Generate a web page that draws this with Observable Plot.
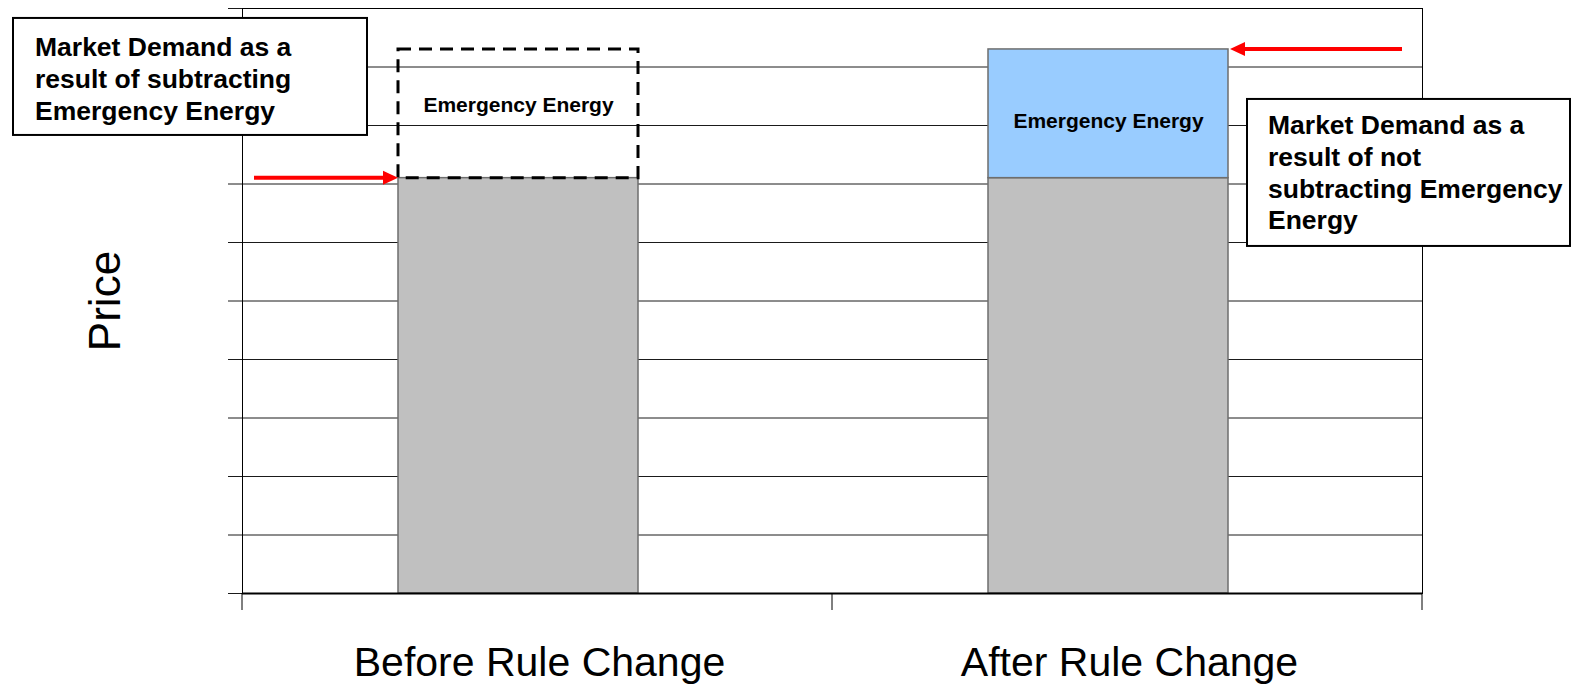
<!DOCTYPE html>
<html><head><meta charset="utf-8">
<script src="https://cdn.jsdelivr.net/npm/d3@7"></script>
<script src="https://cdn.jsdelivr.net/npm/@observablehq/plot@0.6"></script>
<style>html,body{margin:0;padding:0;background:#fff;}</style>
</head><body><div id="chart"></div>
<script>
// ---- data ----
const categories = ["Before Rule Change", "After Rule Change"];
const marketDemand = [7.1, 7.1];
const emergencyEnergy = [2.2, 2.2];
const emergencyStyle = ["dashed", "filled"];
const yTicks = [0, 1, 2, 3, 4, 5, 6, 7, 8, 9, 10];
const barLabel = "Emergency Energy";
const yLabel = "Price";
const noteBefore = ["Market Demand as a", "result of subtracting", "Emergency Energy"];
const noteAfter = ["Market Demand as a", "result of not", "subtracting Emergency", "Energy"];

const rows = categories.map((c, i) => ({
  category: c,
  base: marketDemand[i],
  top: marketDemand[i] + emergencyEnergy[i],
  style: emergencyStyle[i]
}));

const W = 1572, H = 686;
const padInner = 0.594, padOuter = padInner / 2, bandAlign = 0.445;
const FONT = "Liberation Sans, Arial, sans-serif";

function overlay(index, scales, values, dims) {
  const x = scales.x, y = scales.y;
  const ml = dims.marginLeft, mr = dims.marginRight, mb = dims.marginBottom;
  const n = categories.length;
  const step = (dims.width - ml - mr) / (n - padInner + 2 * padOuter);
  const bwRaw = x.bandwidth;
  const bw = typeof bwRaw === "function" ? bwRaw() : (typeof bwRaw === "number" ? bwRaw : step * (1 - padInner));
  const g = d3.create("svg:g").attr("font-family", FONT).attr("text-anchor", "start");
  const bottom = dims.height - mb;

  // category boundary ticks (below the x axis)
  const bounds = d3.range(n + 1).map(i => ml + i * step);
  g.selectAll("line.t").data(bounds).join("line")
    .attr("x1", d => d).attr("x2", d => d).attr("y1", bottom).attr("y2", bottom + 17)
    .attr("stroke", "#000").attr("stroke-width", 1);

  const b0 = x(categories[0]), b1 = x(categories[1]);

  // arrows
  function arrow(xFrom, xTo, yy) {
    const dir = Math.sign(xTo - xFrom);
    const head = 15, hw = 7;
    g.append("line").attr("x1", xFrom).attr("x2", xTo - dir * head).attr("y1", yy).attr("y2", yy)
      .attr("stroke", "#ff0000").attr("stroke-width", 4);
    g.append("path")
      .attr("d", `M${xTo},${yy}L${xTo - dir * head},${yy - hw}L${xTo - dir * head},${yy + hw}Z`)
      .attr("fill", "#ff0000");
  }
  arrow(ml + 12, b0, y(rows[0].base));
  arrow(dims.width - mr - 20, b1 + bw + 2, y(rows[1].top));

  // note boxes
  function note(lines, x0, y0, w, h, tx, ty) {
    g.append("rect").attr("x", x0).attr("y", y0).attr("width", w).attr("height", h)
      .attr("fill", "#fff").attr("stroke", "#000").attr("stroke-width", 2);
    const t = g.append("text").attr("font-size", 26.5).attr("font-weight", "bold").attr("fill", "#000")
      .attr("text-anchor", "start");
    lines.forEach((l, i) => t.append("tspan").attr("x", x0 + tx).attr("y", y0 + ty + i * 31.8).text(l));
  }
  const topB = y(rows[0].top);
  note(noteBefore, b0 - 385, topB - 31, 354, 117, 22, 38);
  const topA = y(rows[1].top);
  note(noteAfter, b1 + bw + 19, topA + 50, 323, 147, 21, 35);
  return g.node();
}

const chart = Plot.plot({
  width: W, height: H,
  marginLeft: 242, marginRight: 150, marginTop: 8, marginBottom: 93,
  style: {fontFamily: FONT, background: "#fff", color: "#000", overflow: "visible"},
  x: {type: "band", domain: categories, paddingInner: padInner, paddingOuter: padOuter, align: bandAlign, label: null},
  y: {domain: [0, 10], label: null},
  marks: [
    Plot.gridY(yTicks, {stroke: "#1a1a1a", strokeOpacity: 1, strokeWidth: 1}),
    Plot.axisY(yTicks, {tickSize: 14, tickFormat: () => "", stroke: "#1a1a1a", label: null}),
    Plot.axisX({tickSize: 0, tickPadding: 53, fontSize: 41, dx: 21, label: null}),
    Plot.frame({stroke: "#000", strokeWidth: 1}),
    Plot.barY(rows, {x: "category", y1: 0, y2: "base", fill: "#c0c0c0", stroke: "#6e6e6e", strokeWidth: 1.5}),
    Plot.barY(rows.filter(d => d.style === "filled"), {x: "category", y1: "base", y2: "top", fill: "#99ccff", stroke: "#6e6e6e", strokeWidth: 1.5}),
    Plot.barY(rows.filter(d => d.style === "dashed"), {x: "category", y1: "base", y2: "top", fill: "none", stroke: "#000", strokeWidth: 3, strokeDasharray: "13,8"}),
    Plot.text(rows.filter(d => d.style === "dashed"), {x: "category", y: d => (d.base + d.top) / 2, dy: -9, text: () => barLabel, fontSize: 21, fontWeight: "bold", fill: "#000"}),
    Plot.text(rows.filter(d => d.style === "filled"), {x: "category", y: d => (d.base + d.top) / 2, dy: 7, text: () => barLabel, fontSize: 21, fontWeight: "bold", fill: "#000"}),
    Plot.ruleY([0], {stroke: "#000", strokeWidth: 2}),
    Plot.text([yLabel], {frameAnchor: "left", textAnchor: "middle", dx: -137, dy: 0, rotate: -90, fontSize: 44, fill: "#000", text: d => d}),
    overlay
  ]
});
document.getElementById("chart").appendChild(chart);
</script>
</body></html>
